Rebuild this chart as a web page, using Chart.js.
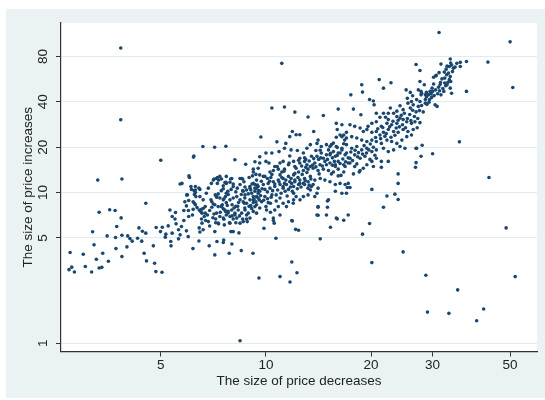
<!DOCTYPE html>
<html><head><meta charset="utf-8">
<script src="https://cdn.jsdelivr.net/npm/chart.js@4"></script>
<style>html,body{margin:0;padding:0;background:#fff;} #c{display:block;}</style>
</head><body>
<canvas id="c" width="545" height="400"></canvas>
<script>
const xTicks = [5, 10, 20, 30, 50];
const yTicks = [1, 5, 10, 20, 40, 80];
const xTitle = 'The size of price decreases';
const yTitle = 'The size of price increases';

// [size of price decrease, size of price increase]
const outliers = [
[3.84,91],[11.1,72],[3.84,30.4],[31.3,115.5],[50,100],[50.9,49.8],[43.2,73.4],[35.8,21.7],[30,18.1],[28,20.6],
[26.9,19.7],[26.9,15.8],[23.9,13.3],[23.9,11.5],[43.5,12.6],[48.7,5.83],[51.7,2.77],[28.7,2.83],[35.4,2.26],[29,1.61],
[33.4,1.58],[42,1.69],[40.1,1.41],[24.7,4.04],[20.1,3.43],[18.9,5.3],[19.8,6.23],[21.7,8.0],[22.2,9.5],[23.4,9.76],
[23.9,9.0],[20.1,10.5],[18.5,13.7],[16.0,6.69],[16.7,6.55],[15.3,5.89],[14.3,4.93],[15.0,8.8],[15.0,8.0],[14.1,8.0],
[14.1,7.07],[11.9,6.48],[8.43,1.04],[9.55,2.71],[10.97,2.77],[11.72,2.55],[11.86,3.46],[12.27,2.94],[10.68,4.98],[14.6,32.5],
[5.0,16.4],[3.3,12.1],[3.87,12.3],
[10.4,36.4],[11.3,37],[12.1,34.2],[13.2,31.7],[9.67,23.4],[10.75,21.7],[6.6,20.2],[7.13,20.0],[7.68,20.3],[6.2,17.2],
[6.22,17.5],[8.15,16.5],[8.75,15.4],[9.3,16],[9.6,17.3],[10.0,18.3],[10.4,18.3],[10.9,18.7],[11.3,19.7],[11.7,23.5],
[11.9,25.4],[12.2,24.2],[12.5,24.2],[12.3,19.0],[11.4,21.2]
];

const lowEnd = [
[3.33,7.4],[3.57,7.7],[3.7,7.6],[4.53,8.5],[3.19,5.5],[3.22,4.5],[2.75,4.0],[2.73,3.08],[2.78,3.2],[2.83,2.97],
[3.0,3.9],[3.04,3.23],[3.17,2.97],[3.27,3.61],[3.33,3.16],[3.39,3.19],[3.41,3.96],[3.54,3.5],[3.51,5.16],[3.72,4.25],
[3.71,5.03],[3.74,5.95],[3.87,3.76],[3.87,5.21],[3.85,6.79],[4.0,4.36],[4.02,5.16],[4.08,4.95],[4.14,4.76],[4.29,4.98],
[4.33,5.83],[4.43,5.54],[4.53,5.38],[4.41,4.76],[4.48,3.96],[4.55,3.52],[4.8,3.4],[4.84,2.99],[5.04,2.96],[4.76,4.43],
[4.85,5.86],[4.99,5.51],[5.05,5.89],[5.15,5.06],[5.25,6.01],[5.17,5.3],[5.31,7.67],[5.39,5.38],[5.34,4.74],[5.35,4.43],
[5.51,7.37],[5.53,6.2],[5.49,6.68],[5.39,6.93],[5.62,5.66],[5.62,4.93],[5.68,5.24],[5.73,5.95],[5.82,6.52],[5.82,7.6],
[5.68,11.4],[5.75,11.5],[5.96,9.65],[6.01,8.85],[5.92,8.16]
];

const lowerCore = [
[6.02,12.9],[6.04,12.6],[6.1,10.97],[6.12,10.5],[6.23,10.3],[6.28,10.0],[6.24,9.7],[6.3,9.4],[6.24,8.5],[6.28,8.3],
[6.16,7.1],[6.01,6.93],[5.92,5.57],[5.99,5.1],[6.18,4.25],[6.43,4.77],[6.44,5.83],[6.47,5.48],[6.61,5.66],[6.54,6.68],
[6.56,6.27],[6.5,7.5],[6.56,7.3],[6.54,7.74],[6.61,7.84],[6.66,6.93],[6.72,6.52],[6.84,6.42],[6.88,4.43],[7.14,3.86],
[6.96,8.95],[7.0,8.7],[7.07,8.4],[7.1,7.2],[7.18,6.68],[7.18,6.3],[7.32,6.2],[7.14,5.51],[7.24,4.74],[7.26,11.5],
[7.32,12.1],[7.16,9.65],[7.23,9.3],[7.38,12.8],[7.55,11.1],[7.55,10.6],[7.63,11.66],[7.7,11.5],[7.7,9.9],[7.78,10.2],
[7.58,9.1],[7.66,9.4],[7.46,8.06],[7.55,7.8],[7.66,7.5],[7.58,6.66],[7.78,7.3],[7.86,6.3],[7.57,4.85],[7.55,4.66],
[7.85,3.96],[7.99,4.56],[7.94,5.51],[8.06,5.51],[8.15,7.1],[8.2,6.3],[8.33,7.67],[8.37,5.4],[8.5,4.12],[8.43,12.4],
[8.58,12.3],[8.58,10.3],[8.7,9.2],[8.67,8.5],[8.58,6.68],[8.8,7.1],[8.84,6.42],[9.18,3.96],[9.2,8.6],[9.4,9.4],
[9.53,10.3],[9.12,11.4],[9.3,11.3],[9.87,5.8],[9.91,6.66],[10.04,7.67],[10.15,8.57],[10.5,6.52],[10.56,6.27],[11.86,6.52],
[12.16,5.7],[12.4,5.62],[11.97,8.5],[12.52,8.95],
[7.22,12.4],[7.46,12.3],[7.7,12.8],[7.68,11.7],[7.89,11.7],[7.98,12.4],[8.06,10.97],[8.28,10.7],[8.43,11.3],[8.52,12.4],
[8.61,10.2],[8.71,9.65],[8.8,10.4],[9.0,10.97],[9.1,9.9],[9.2,11.5],[9.3,10.2],[9.4,10.7],[9.5,9.9],[9.57,8.95],
[9.36,8.7],[9.0,8.95],[8.8,8.5],[8.61,8.7],[8.43,8.95],[8.25,9.4],[8.06,9.2],[7.89,8.95],[7.7,8.57],[7.55,8.95],
[7.38,9.2],[7.22,9.4],[7.14,8.3],[7.3,8.07],[7.46,8.15],[7.63,7.67],[7.8,7.5],[7.98,7.67],[8.15,7.3],[8.52,7.3],
[8.71,7.67],[8.9,7.3],[9.1,7.85],[9.3,8.07],[9.4,7.3],[9.0,6.77],[8.8,6.68],[8.61,6.42],[8.25,6.77],[8.06,6.68],
[7.89,6.93],[7.7,7.1],[7.55,6.77],[7.38,6.93],[7.22,7.3],[7.3,6.27],[7.89,6.27],[8.43,6.27],
[6.98,11.5],[7.07,12.1],[6.28,10.4],[6.43,10.7],[5.93,9.65],[5.86,8.7],[6.19,8.7],[6.47,9.4],[6.61,8.95],[6.7,8.07],
[6.44,7.67],[6.19,7.74],[6.75,9.9],[6.84,10.7],[9.5,14.5],[9.2,13.7],[9.36,13.2],
[9.2,8.95],[9.4,8.3],[9.72,8.7],[10.0,8.07],[10.3,8.5],[10.6,7.67],[10.85,8.07],[10.5,6.77],[10.97,7.1],
[6.28,10.97],[6.47,10.5],[7.1,12.3],[7.26,12.6],[7.92,12.3],[8.06,11.4],[8.71,10.9],[9.83,12.8],[10.33,12.6],[10.77,14.9],
[10.97,13.1],[11.26,13.85],[11.65,15.7],[12.5,16.9],[13.0,16.6],
[6.8,7.1],[6.9,7.6],[7.0,8.0],[7.05,6.8],[6.9,6.0],[7.4,7.4],[7.5,8.3],[7.6,6.1],[7.75,8.2],[8.0,8.3],
[8.1,7.9],[8.3,8.1],[8.0,7.0],[8.4,7.0],[8.7,7.9],[8.95,8.1],[9.2,7.5],[6.7,7.3],[6.35,7.95],[6.0,7.6]
];

const core = [
[13.7,25.4],[9.6,15.7],[9.2,14.3],[10.0,16.1],[10.2,15.7],[10.6,14.9],[10.97,15.7],[11.2,16.1],[11.7,17.5],[11.8,19.2],
[12.8,18.3],[13.1,19.7],[13.4,20.8],[14.0,21.2],[14.1,22.3],[14.4,20.2],[14.9,20.8],[15.25,20.2],[15.9,23.3],[16.5,23.5],
[16.8,22.3],[17.0,25.1],[16.7,21.1],[15.6,18.7],[16.1,18.3],[16.5,19.2],[17.0,18.3],[14.9,17.8],[14.4,18.3],[14.0,17.4],
[13.5,17.4],[17.2,15.7],[16.7,15.3],[16.1,16.1],[15.8,14.9],[15.25,15.7],[14.75,16.1],[14.28,15.3],[13.8,15.7],[13.4,14.9],
[12.9,16.1],[12.5,15.7],[12.2,14.5],[12.0,16.1],[11.6,15.3],[11.3,14.3],[11.1,13.7],[10.85,14.3],[10.5,14.0],[10.27,13.7],
[9.93,12.8],[9.6,13.1],[9.4,12.1],[9.0,10.7],[9.3,10.7],[9.5,10.97],[9.83,11.3],[10.15,11.5],[10.5,11.8],[10.85,12.1],
[11.2,12.4],[11.6,12.8],[12.0,13.1],[12.4,13.7],[12.8,14.0],[13.2,14.3],[13.65,14.5],[14.1,14.0],[14.6,14.3],[15.1,14.0],
[15.6,13.7],[16.1,14.3],[16.7,13.7],[9.6,10.2],[9.93,10.5],[10.27,10.7],[10.6,10.97],[10.97,11.3],[11.3,11.5],[11.7,11.8],
[12.1,12.1],[12.5,12.1],[12.9,12.4],[13.4,12.8],[11.2,10.7],[11.6,10.5],[12.0,10.97],[12.4,11.3],[12.8,11.5],[13.2,11.8],
[13.8,12.1],[14.3,12.4],[14.75,12.1],[9.2,9.4],[9.5,9.2],[9.93,9.4],[10.4,9.65],[10.7,9.65],[12.0,9.9],[12.2,9.4],
[13.65,11.3],[14.1,10.7],[13.4,10.4],[15.25,11.8],[15.8,11.3],[16.3,11.5],[16.85,11.3],[17.2,11.5],[15.1,8.95],[14.1,8.07],
[14.0,7.1],[12.0,8.95],[14.9,7.1],[15.9,6.77],[17.2,7.1],[12.8,9.4],[13.2,9.65],[15.8,10.2],[16.5,9.9],[17.0,9.9],
[17.4,10.8],[17.1,10.8],[16.1,12.9],[13.8,9.4],[14.0,9.9],[11.2,10.97],[11.45,11.3],[11.85,11.5],[12.1,11.8],[12.5,11.5],
[12.9,11.3],[13.2,10.7],[13.5,10.97],[11.2,8.5],[11.6,8.7],[11.45,8.07],[10.97,9.2],
[8.9,9.8],[9.05,10.4],[9.25,9.05],[9.45,11.2],[9.65,9.55],[9.75,10.6],[9.85,8.9],[10.1,9.1],[10.1,10.1],[10.25,11.9],
[10.35,9.3],[10.45,10.3],[10.6,11.4],[10.7,8.8],[10.8,10.4],[10.9,11.8],[11.05,9.9],[11.1,12.6],[11.35,10.2],[11.4,12.1],
[11.5,9.5],[11.75,10.9],[11.8,12.4],[11.9,10.2],[12.1,13.4],[12.3,10.6],[12.35,12.6],[12.6,10.9],[12.7,13.2],[12.95,12.0],
[13.1,13.6],[13.3,11.2],[13.45,12.3],[8.65,11.8],[8.95,12.6],[9.15,12.9],[9.7,11.9],[10.1,12.4],[10.4,13.2],[9.05,8.2],
[9.6,7.9],[10.3,7.4],[8.2,8.1],[8.35,8.6],[8.5,9.7],[8.2,10.1],[7.95,10.5],[7.8,9.7],[7.45,10.3],[7.3,9.8],
[12.1,14.9],[12.4,16.4],[12.65,15.0],[12.9,17.0],[13.1,15.3],[13.3,16.2],[13.6,15.2],[13.7,16.8],[13.9,14.8],[14.15,16.6],
[14.35,17.0],[14.5,15.0],[14.6,16.9],[14.9,15.3],[15.0,16.6],[15.3,18.2],[15.5,15.2],[15.5,17.0],[15.7,16.1],[16.0,17.6],
[16.3,15.6],[16.6,16.7],[16.9,16.0],[17.2,17.0],[17.5,18.6],[17.7,16.3],[18.0,19.1],[18.3,17.3],[18.4,18.4],[18.9,18.0],
[19.1,20.5],[19.4,18.3],[19.7,19.2],[19.9,21.0],[20.3,20.0],[20.5,17.7],[14.3,19.1],[13.9,19.0],[15.1,19.2],[15.6,21.3],
[16.0,19.9],[13.0,14.7],[14.2,13.3],[15.4,13.3],[16.4,13.0],[17.8,13.3],[18.2,15.5],[18.6,14.0]
];

const upperCore = [
[21.1,56.2],[22.8,53.6],[18.8,51.9],[18.9,46.4],[21.7,49.3],[17.5,44.5],[19.8,41.5],[20.3,40.5],[20.4,38.2],[27.6,54.6],
[28.4,51.9],[25.2,48.0],[25.9,46.2],[26.3,43.9],[27.3,48.0],[27.9,45.6],[28.8,46.2],[25.4,42.2],[26.1,40.2],[27.0,41.4],
[25.5,39.2],[26.4,38.2],[27.3,37.3],[25.9,36.4],[24.2,37.7],[24.7,35.5],[23.7,34.7],[27.6,40.2],[28.6,39.2],[22.7,36.4],
[23.2,33.6],[23.7,32.0],[22.4,33.6],[16.1,35.8],[17.8,35.8],[18.7,32.8],[20.7,33.6],[21.2,31.6],[21.7,33.6],[22.0,31.6],
[22.4,30.5],[24.2,31.2],[24.7,30.5],[25.3,29.5],[26.1,28.8],[26.7,29.5],[27.6,29.1],[23.7,28.8],[22.9,28.2],[22.2,28.8],
[21.4,27.5],[20.7,29.5],[20.1,28.8],[19.6,27.5],[15.9,28.8],[16.5,28.2],[16.0,26.2],[16.7,24.1],[17.4,28.2],[17.95,27.5],
[18.6,26.8],[19.0,25.4],[19.45,26.2],[20.1,25.1],[20.7,25.4],[21.2,24.1],[21.7,25.1],[22.4,26.2],[23.2,25.4],[23.9,25.1],
[24.7,26.2],[25.5,25.4],[26.4,26.2],[27.1,26.9],[16.3,24.1],[17.0,23.0],[17.6,23.5],[18.2,23.0],[18.8,22.3],[19.45,21.8],
[20.1,22.3],[20.7,21.8],[21.4,21.2],[22.2,22.3],[22.9,21.8],[23.7,21.2],[24.5,22.3],[25.3,23.5],[26.1,24.1],[15.4,20.8],
[15.9,20.2],[16.5,19.7],[17.0,20.8],[17.6,19.7],[18.2,20.2],[18.8,19.2],[19.45,19.7],[20.1,18.7],[20.7,19.2],[21.7,19.7],
[22.4,18.7],[23.2,19.2],[24.2,20.2],[25.0,19.7],[15.25,17.8],[15.8,17.4],[16.3,18.3],[16.85,17.8],[17.4,16.9],[17.95,17.8],
[18.6,16.9],[19.2,17.4],[19.85,16.6],[20.7,16.9],[21.4,16.1],[15.8,15.3],[16.85,14.9],[17.4,15.7],[17.95,14.9],[20.1,16.1],
[19.45,15.3],[19.0,14.5],[27.0,19.7],[26.8,14.7],[27.8,17.4],[22.4,16.1],[20.3,14.9],[21.4,14.7],
[20.6,23.2],[20.9,26.5],[21.3,22.8],[21.6,27.0],[21.9,23.6],[22.1,24.6],[22.6,27.3],[22.8,23.3],[23.1,29.7],[23.4,24.0],
[23.6,26.8],[23.9,30.2],[24.1,27.3],[24.4,32.6],[24.6,28.2],[24.9,33.6],[25.1,26.9],[25.4,31.0],[25.8,33.0],[26.0,30.0],
[26.3,35.2],[26.6,32.0],[26.9,34.3],[27.2,31.0],[27.5,35.0],[27.9,37.8],[28.2,34.3],[28.6,41.5],[28.9,38.5],[29.3,39.8]
];

const upperEnd = [
[33.7,76.9],[26.9,70.8],[27.6,64.6],[31.7,71.2],[32.8,65.9],[33.8,72.3],[34.0,70.3],[33.5,68.6],[34.4,66.9],[36.0,73.1],
[37.5,74.0],[36.0,68.6],[37.5,46.9],[34.0,45.6],[30.7,59.5],[31.9,56.8],[32.5,53.3],[32.7,51.1],[33.3,62.0],[33.7,58.9],
[33.5,56.2],[33.8,54.6],[33.0,51.9],[33.7,49.3],[32.3,46.9],[31.5,51.9],[31.4,47.3],[31.7,44.5],[30.2,52.5],[29.9,49.3],
[29.5,46.9],[29.2,44.5],[27.8,46.9],[30.0,46.9],[29.7,45.2],[29.0,44.5],[28.6,44.5],[27.8,44.5],[29.4,41.5],[28.8,43.1],
[30.5,38.2],[30.9,37.3],[30.2,58.3],[30.7,60.0],
[29.8,42.8],[30.3,44.0],[30.6,48.0],[31.0,45.3],[31.2,50.0],[31.6,53.8],[32.1,49.0],[32.5,57.5],[32.9,60.5],[33.2,54.0],
[34.2,63.5],[34.8,68.0],[35.2,72.0],[33.0,69.0],[32.4,63.0],[31.3,62.5]
];

const points = [].concat(outliers, lowEnd, lowerCore, core, upperCore, upperEnd)
  .map(p => ({ x: p[0], y: p[1] }));

const FONT = { family: '"Liberation Sans", Arial, sans-serif', size: 13.5 };
const AXIS = '#333333';

const bgPlugin = {
  id: 'bg',
  beforeDraw(chart) {
    const { ctx, chartArea: a } = chart;
    ctx.save();
    ctx.fillStyle = '#ffffff';
    ctx.fillRect(0, 0, chart.width, chart.height);
    ctx.fillStyle = '#EAF2F3';
    ctx.fillRect(6, 9, 539, 389);
    ctx.fillStyle = '#ffffff';
    ctx.fillRect(a.left, a.top, a.right - a.left, a.bottom - a.top);
    ctx.restore();
  }
};

new Chart(document.getElementById('c'), {
  type: 'scatter',
  data: { datasets: [{ data: points, backgroundColor: '#1A476F', borderColor: '#1A476F', pointRadius: 1.8, borderWidth: 0 }] },
  options: {
    responsive: false, animation: false,
    layout: { padding: { left: 0, top: 23, right: 8, bottom: 0 } },
    plugins: { legend: { display: false }, tooltip: { enabled: false } },
    scales: {
      x: {
        type: 'logarithmic', min: 2.59, max: 59.7,
        afterBuildTicks: s => { s.ticks = xTicks.map(v => ({ value: v })); },
        afterFit: s => { s.height = 48.5; },
        grid: { display: true, drawOnChartArea: false, drawTicks: true, tickLength: 5, tickColor: AXIS, tickWidth: 1 },
        border: { display: true, color: AXIS, width: 1.2 },
        ticks: { autoSkip: false, maxRotation: 0, minRotation: 0, padding: 1, color: '#222', font: FONT, callback: v => String(v) },
        title: { display: true, text: xTitle, color: '#222', font: FONT, padding: { top: 0, bottom: 11 } }
      },
      y: {
        type: 'logarithmic', min: 0.882, max: 133.4,
        afterBuildTicks: s => { s.ticks = yTicks.map(v => ({ value: v })); },
        afterFit: s => { s.width = 61; },
        grid: { display: true, drawOnChartArea: true, color: '#E1EAED', lineWidth: 1, drawTicks: true, tickLength: 5, tickColor: AXIS, tickWidth: 1 },
        border: { display: true, color: AXIS, width: 1.2 },
        ticks: { autoSkip: false, minRotation: 90, maxRotation: 90, crossAlign: 'center', padding: 5, color: '#222', font: FONT, callback: v => String(v) },
        title: { display: true, text: yTitle, color: '#222', font: FONT, padding: { top: 20, bottom: 0 } }
      }
    }
  },
  plugins: [bgPlugin]
});
</script>
</body></html>
